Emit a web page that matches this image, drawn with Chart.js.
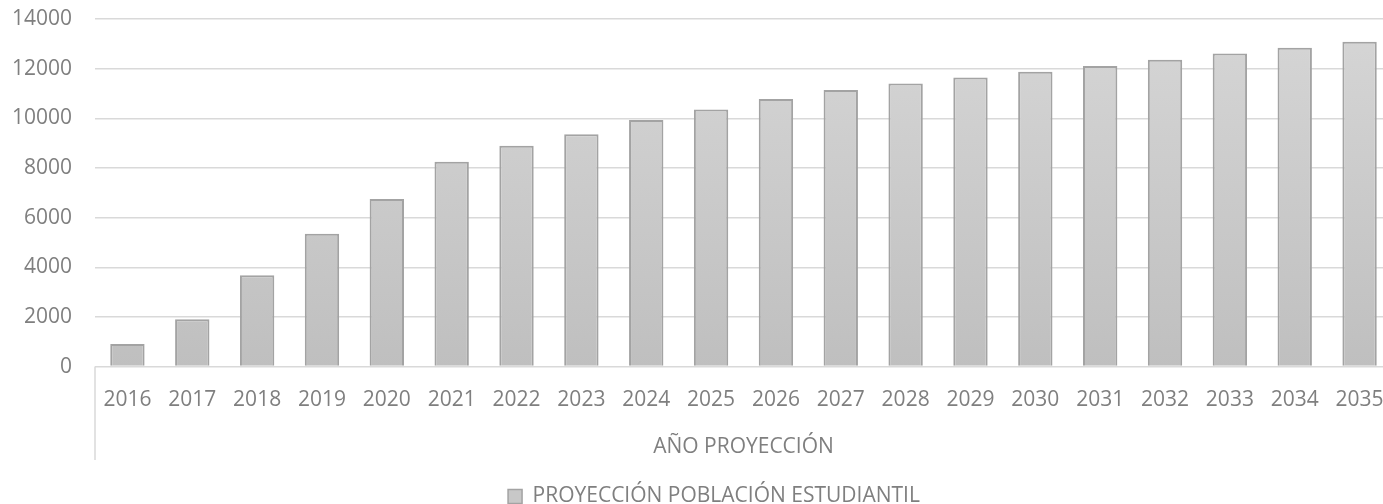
<!DOCTYPE html>
<html lang="es">
<head>
    <meta charset="UTF-8">
    <title>Proyección población estudiantil</title>
    <script src="https://cdn.jsdelivr.net/npm/chart.js"></script>
    <style>
        body { margin: 0; overflow: hidden; background: #fff; }
        .wrap { width: 1428px; height: 517px; position: relative; }
    </style>
</head>
<body>
    <div class="wrap"><canvas id="chart"></canvas></div>

    <script>
        // datos
        const anios = ['2016', '2017', '2018', '2019', '2020', '2021', '2022', '2023', '2024', '2025',
                       '2026', '2027', '2028', '2029', '2030', '2031', '2032', '2033', '2034', '2035'];
        const poblacion = [910, 1910, 3680, 5350, 6750, 8250, 8900, 9360, 9930, 10360,
                           10780, 11140, 11400, 11640, 11880, 12110, 12360, 12610, 12840, 13080];
        const serieNombre = 'PROYECCIÓN POBLACIÓN ESTUDIANTIL';
        const ejeXTitulo = 'AÑO PROYECCIÓN';
        const yMax = 14000;
        const yPaso = 2000;

        const gris = '#7f7f7f';
        const fuente = { family: '"Open Sans", sans-serif', size: 21 };

        function degradado(ctx) {
            const area = ctx.chart.chartArea;
            if (!area) return '#c8c8c8';
            const g = ctx.chart.ctx.createLinearGradient(0, area.top, 0, area.bottom);
            g.addColorStop(0, '#d6d6d6');
            g.addColorStop(1, '#bfbfbf');
            return g;
        }

        // línea vertical a la izquierda del eje de categorías (estilo Excel)
        const lineaEje = {
            id: 'lineaEje',
            afterDraw(chart) {
                const x = chart.scales.x;
                const c = chart.ctx;
                c.save();
                c.strokeStyle = '#d9d9d9';
                c.lineWidth = 1.5;
                c.beginPath();
                c.moveTo(x.left, chart.chartArea.bottom);
                c.lineTo(x.left, x.bottom - 18);
                c.stroke();
                c.restore();
            }
        };

        new Chart(document.getElementById('chart'), {
            type: 'bar',
            data: {
                labels: anios,
                datasets: [{
                    label: serieNombre,
                    data: poblacion,
                    backgroundColor: degradado,
                    borderColor: '#a3a3a3',
                    borderWidth: 2,
                    barPercentage: 0.53,
                    categoryPercentage: 1
                }]
            },
            plugins: [lineaEje],
            options: {
                responsive: true,
                maintainAspectRatio: false,
                animation: false,
                layout: { autoPadding: false, padding: { top: 19, right: 0, left: 0, bottom: 0 } },
                plugins: {
                    tooltip: { enabled: false },
                    legend: {
                        position: 'bottom',
                        labels: {
                            color: gris,
                            font: fuente,
                            boxWidth: 14,
                            boxHeight: 14,
                            padding: 8,
                            generateLabels(chart) {
                                return Chart.defaults.plugins.legend.labels.generateLabels(chart).map(l => {
                                    l.fillStyle = '#c8c8c8';
                                    l.strokeStyle = '#a3a3a3';
                                    l.lineWidth = 1.5;
                                    return l;
                                });
                            }
                        }
                    }
                },
                scales: {
                    x: {
                        grid: { display: false },
                        border: { display: false },
                        ticks: { color: gris, font: fuente, padding: 13, maxRotation: 0, autoSkip: false },
                        title: { display: true, text: ejeXTitulo, color: gris, font: fuente, padding: { top: 9, bottom: 18 } }
                    },
                    y: {
                        min: 0,
                        max: yMax,
                        grid: { color: '#d9d9d9', lineWidth: 1.5, drawTicks: false },
                        border: { display: false },
                        ticks: {
                            stepSize: yPaso,
                            color: gris,
                            font: fuente,
                            padding: 23,
                            callback: v => String(v)
                        },
                        afterFit(s) {
                            s.width = 95;
                            // el padding de ticks no debe empujar el área hacia abajo
                            s.paddingTop = 0;
                            s.paddingBottom = 0;
                        }
                    },
                    // eje vacío a la derecha: el gráfico original sigue más allá del recorte
                    derecha: {
                        type: 'linear',
                        position: 'right',
                        grid: { display: false },
                        border: { display: false },
                        ticks: { display: false },
                        afterFit(s) {
                            s.width = 36;
                            s.paddingTop = 0;
                            s.paddingBottom = 0;
                        }
                    }
                }
            }
        });
    </script>
</body>
</html>
